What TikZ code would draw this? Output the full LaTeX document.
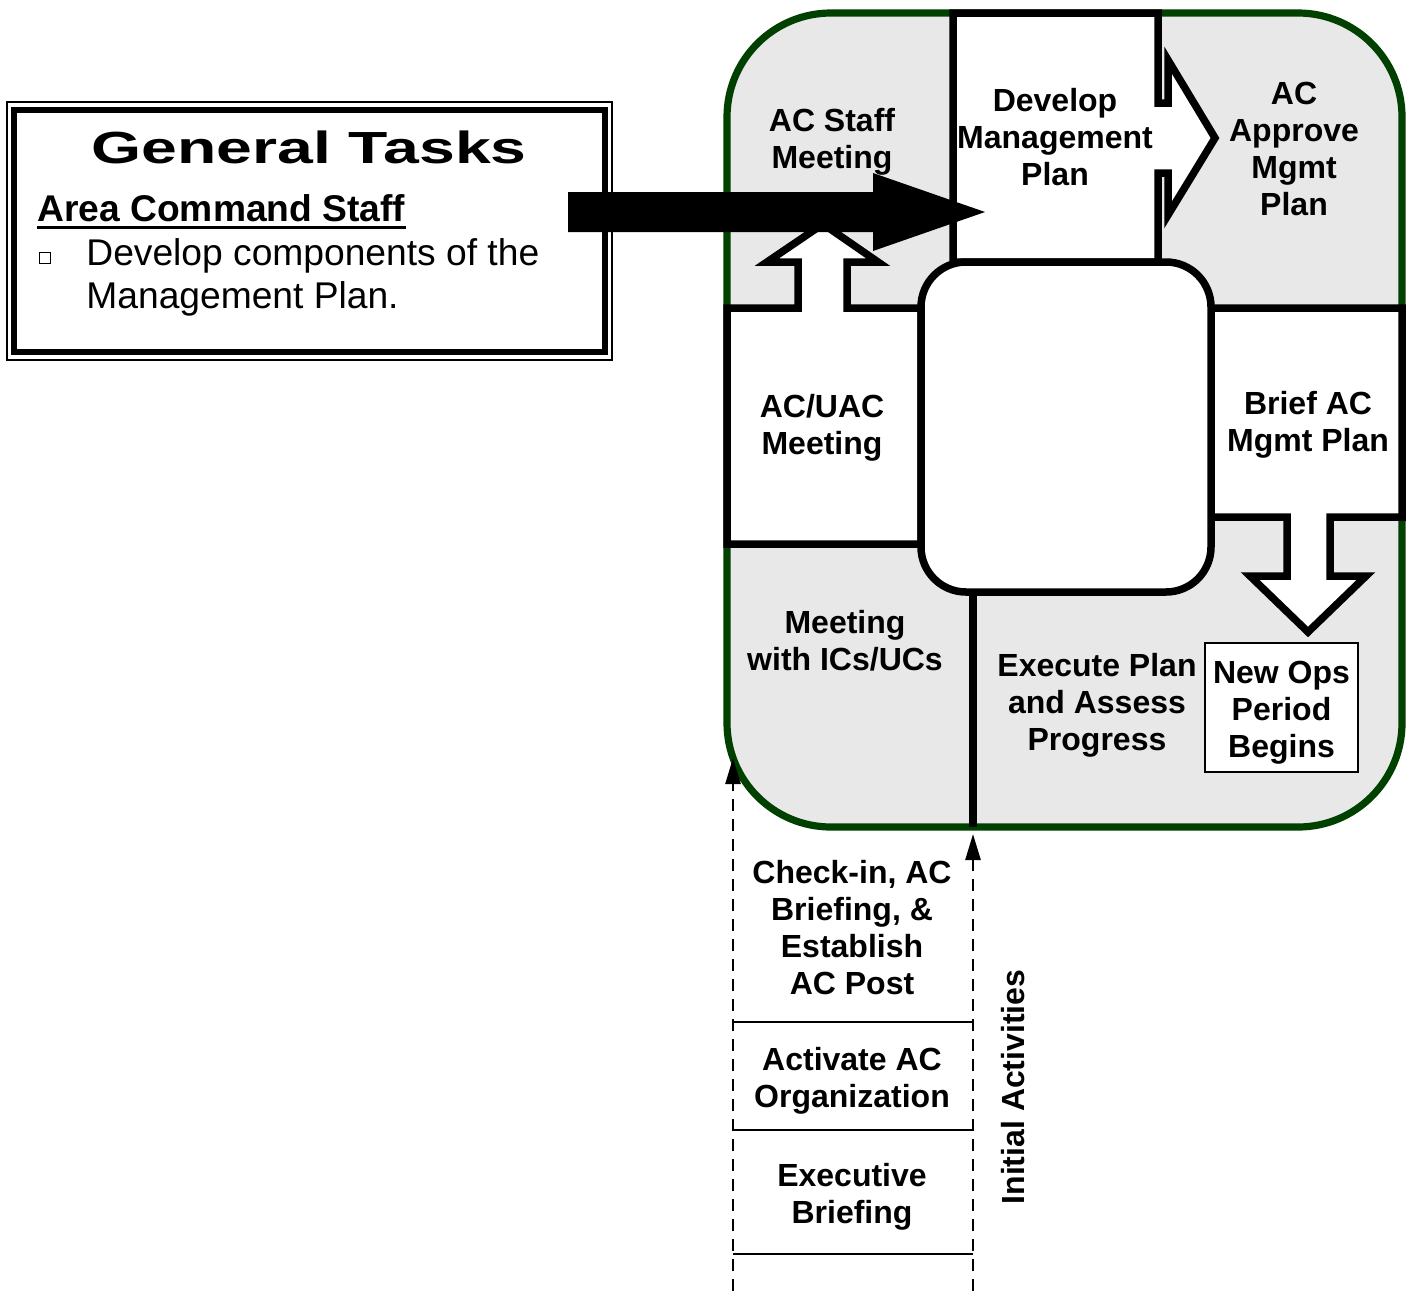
\documentclass[tikz,border=0pt]{standalone}
\usepackage{fontspec}
\setmainfont{Liberation Sans}
\newfontfamily\widefont[FakeStretch=1.43]{Liberation Sans}
\usetikzlibrary{arrows.meta}
\definecolor{frameGreen}{RGB}{0,64,0}
\definecolor{panelGray}{RGB}{232,232,232}
\tikzset{
  lbl/.style={font=\bfseries\fontsize{16}{18.5}\selectfont, align=center, inner sep=0pt},
  blockbox/.style={draw=black, line width=3.75pt, fill=white, line join=miter},
  thinline/.style={draw=black, line width=1.4pt},
  dashline/.style={draw=black, line width=1.3pt, dash pattern=on 6pt off 4pt},
  tiparrow/.style={-{Triangle[length=13pt,width=7.5pt]}},
}
\begin{document}
\begin{tikzpicture}[x=0.5pt,y=-0.5pt]
\useasboundingbox (0,0) rectangle (1412,1291);
\fill[white] (0,0) rectangle (1412,1291);

% outer rounded frame
\draw[fill=panelGray, draw=frameGreen, line width=3.6pt, rounded corners=52pt]
  (727,13) rectangle (1402,827);

% AC/UAC box with up arrow
\draw[blockbox] (727,308) -- (798,308) -- (798,262) -- (767,262) -- (823,224)
  -- (878,262) -- (847,262) -- (847,308) -- (921,308) -- (921,544) -- (727,544) -- cycle;

% Brief box with down arrow
\draw[blockbox] (1211,308) -- (1402,308) -- (1402,517) -- (1330,517) -- (1330,576)
  -- (1366,576) -- (1308,632) -- (1250,576) -- (1287,576) -- (1287,517) -- (1211,517) -- cycle;

% Develop box with right arrow
\draw[blockbox] (953,13) -- (1158,13) -- (1158,103) -- (1168,103) -- (1168,60)
  -- (1215,138) -- (1168,215) -- (1168,173) -- (1158,173) -- (1158,262) -- (953,262) -- cycle;

% centre rounded box
\node[blockbox, rounded corners=22.5pt, minimum width=145pt, minimum height=165pt, inner sep=0pt]
  (hub) at (1066,427) {};

% divider line
\coordinate (divtop) at (973,592);
\coordinate (divbot) at (973,827);
\draw[black, line width=3.75pt] (divtop) -- (divbot);

% New Ops box
\node[draw=black, line width=1.3pt, fill=white, minimum width=76.5pt, minimum height=64.5pt, inner sep=0pt]
  (newops) at (1281.5,707.5) {};
\node[lbl] (newopstext) at (1281.5,712.5) {New Ops\\Period\\Begins};

% labels in the cycle
\node[lbl] (acstaff) at (832,141.5) {AC Staff\\Meeting};
\node[lbl] (develop) at (1055,137) {Develop\\Management\\Plan};
\node[lbl] (approve) at (1294,149) {AC\\Approve\\Mgmt\\Plan};
\node[lbl] (acuac) at (822,427.5) {AC/UAC\\Meeting};
\node[lbl] (brief) at (1308,424.5) {Brief AC\\Mgmt Plan};
\node[lbl] (meetic) at (845,641) {Meeting\\with ICs/UCs};
\node[lbl] (execute) at (1097,705) {Execute Plan\\and Assess\\Progress};

% initial activities column
\coordinate (l0) at (733,1291);
\coordinate (l1) at (733,758);
\coordinate (r0) at (973,1291);
\coordinate (r1) at (973,834);
\draw[dashline, tiparrow] (l0) -- (l1);
\draw[dashline, tiparrow] (r0) -- (r1);
\coordinate (h1a) at (733,1022); \coordinate (h1b) at (973,1022);
\coordinate (h2a) at (733,1130); \coordinate (h2b) at (973,1130);
\coordinate (h3a) at (733,1254); \coordinate (h3b) at (973,1254);
\draw[thinline] (h1a) -- (h1b);
\draw[thinline] (h2a) -- (h2b);
\draw[thinline] (h3a) -- (h3b);
\node[lbl] (checkin) at (852,928) {Check-in, AC\\Briefing, \&\\Establish\\AC Post};
\node[lbl] (activate) at (852,1081) {Activate AC\\Organization};
\node[lbl] (exec) at (852,1196.5) {Executive\\Briefing};
\node[lbl, rotate=90] (initial) at (1013.5,1087) {Initial Activities};

% General tasks box
\draw[black, line width=1pt] (7,102) rectangle (612,360);
\draw[black, line width=3pt, fill=white] (14,110) rectangle (605,352);
\node[inner sep=0pt, font=\widefont\bfseries\fontsize{22.5}{26}\selectfont] (gt) at (309,147) {General Tasks};
\node[inner sep=0pt, anchor=base west, font=\bfseries\fontsize{18.6}{21}\selectfont] (acs) at (37,221) {Area Command Staff};
\draw[black, line width=1.5pt] ([yshift=-3.3pt]acs.base west) -- ([yshift=-3.3pt]acs.base east);
\node[draw=black, line width=0.75pt, minimum size=5.5pt, inner sep=0pt] (bul) at (45,258) {};
\node[inner sep=0pt, anchor=north west, align=left, font=\fontsize{18.6}{21.5}\selectfont] (bt) at (86,238)
  {Develop components of the\\Management Plan.};

% big black arrow
\fill[black] (568,192) -- (873,192) -- (873,173) -- (985,212) -- (873,251) -- (873,232) -- (568,232) -- cycle;
\end{tikzpicture}
\end{document}
